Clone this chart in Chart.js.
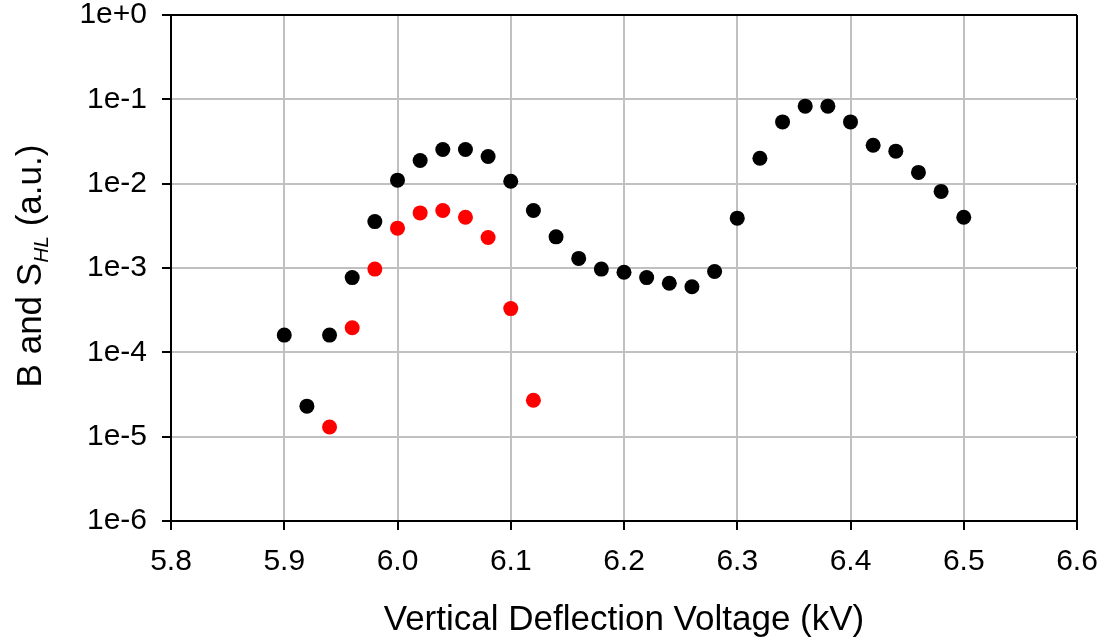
<!DOCTYPE html>
<html>
<head>
<meta charset="utf-8">
<script src="https://cdn.jsdelivr.net/npm/chart.js@4.4.1/dist/chart.umd.min.js"></script>
<style>
  html, body { margin: 0; padding: 0; background: #ffffff; }
  #c { display: block; }
</style>
</head>
<body>
<canvas id="c" width="1102" height="640"></canvas>
<script>
// ---- data ----
const voltageB = [5.90, 5.92, 5.94, 5.96, 5.98, 6.00, 6.02, 6.04, 6.06, 6.08, 6.10, 6.12, 6.14, 6.16, 6.18, 6.20, 6.22, 6.24, 6.26, 6.28, 6.30, 6.32, 6.34, 6.36, 6.38, 6.40, 6.42, 6.44, 6.46, 6.48, 6.50];
const valuesB = [1.6e-4, 2.3e-5, 1.6e-4, 7.7e-4, 3.55e-3, 1.1e-2, 1.88e-2, 2.54e-2, 2.54e-2, 2.1e-2, 1.07e-2, 4.8e-3, 2.34e-3, 1.3e-3, 9.7e-4, 8.9e-4, 7.7e-4, 6.6e-4, 6.0e-4, 9.1e-4, 3.9e-3, 2.0e-2, 5.4e-2, 8.3e-2, 8.3e-2, 5.4e-2, 2.86e-2, 2.43e-2, 1.36e-2, 8.1e-3, 4.0e-3];
const voltageS = [5.94, 5.96, 5.98, 6.00, 6.02, 6.04, 6.06, 6.08, 6.10, 6.12];
const valuesS = [1.3e-5, 1.96e-4, 9.7e-4, 2.97e-3, 4.5e-3, 4.8e-3, 4.0e-3, 2.3e-3, 3.3e-4, 2.7e-5];
const xTickValues = [5.8, 5.9, 6.0, 6.1, 6.2, 6.3, 6.4, 6.5, 6.6];
const xTickLabels = ['5.8', '5.9', '6.0', '6.1', '6.2', '6.3', '6.4', '6.5', '6.6'];
const yTickValues = [1e-6, 1e-5, 1e-4, 1e-3, 1e-2, 1e-1, 1];
const yTickLabels = ['1e-6', '1e-5', '1e-4', '1e-3', '1e-2', '1e-1', '1e+0'];
const xTitle = 'Vertical Deflection Voltage (kV)';
const yTitleParts = ['B and S', 'HL', ' (a.u.)'];

const FONT = '"Liberation Sans", Arial, Helvetica, sans-serif';

const yTitlePlugin = {
  id: 'yTitle',
  afterDraw(chart) {
    const ctx = chart.ctx;
    const area = chart.chartArea;
    const mainFont = '35px ' + FONT;
    const subFont = 'italic 21px ' + FONT;
    ctx.save();
    ctx.font = mainFont;
    const w0 = ctx.measureText(yTitleParts[0]).width;
    const w2 = ctx.measureText(yTitleParts[2]).width;
    ctx.font = subFont;
    const w1 = ctx.measureText(yTitleParts[1]).width;
    const total = w0 + w1 + w2;
    const cy = (area.top + area.bottom) / 2 - 2;
    ctx.translate(41, cy);
    ctx.rotate(-Math.PI / 2);
    ctx.fillStyle = '#000000';
    ctx.textBaseline = 'alphabetic';
    ctx.textAlign = 'left';
    let x = -total / 2;
    ctx.font = mainFont;
    ctx.fillText(yTitleParts[0], x, 0);
    x += w0;
    ctx.font = subFont;
    ctx.fillText(yTitleParts[1], x, 7);
    x += w1;
    ctx.font = mainFont;
    ctx.fillText(yTitleParts[2], x, 0);
    ctx.restore();
  }
};

new Chart(document.getElementById('c'), {
  type: 'scatter',
  data: {
    datasets: [
      {
        label: 'B',
        data: voltageB.map((v, i) => ({ x: v, y: valuesB[i] })),
        backgroundColor: '#000000',
        borderWidth: 0,
        pointRadius: 7.5,
        pointHoverRadius: 7.5,
        showLine: false
      },
      {
        label: 'S_HL',
        data: voltageS.map((v, i) => ({ x: v, y: valuesS[i] })),
        backgroundColor: '#ff0000',
        borderWidth: 0,
        pointRadius: 7.5,
        pointHoverRadius: 7.5,
        showLine: false
      }
    ]
  },
  options: {
    responsive: false,
    animation: false,
    events: [],
    layout: { padding: { top: 15, right: 25, left: 0, bottom: 0 } },
    plugins: {
      legend: { display: false },
      tooltip: { enabled: false }
    },
    scales: {
      x: {
        type: 'linear',
        position: 'bottom',
        min: 5.8,
        max: 6.6,
        afterBuildTicks(scale) { scale.ticks = xTickValues.map(v => ({ value: v })); },
        afterFit(scale) { scale.height = 119; scale.paddingLeft = 0; scale.paddingRight = 0; },
        ticks: {
          callback: (v, i) => xTickLabels[i],
          font: { family: FONT, size: 30 },
          color: '#000000',
          padding: 14,
          maxRotation: 0,
          autoSkip: false
        },
        grid: {
          color: (c) => (c.tick && Math.abs(c.tick.value - 6.6) < 1e-9) ? '#000000' : '#c0c0c0',
          lineWidth: 2,
          tickColor: '#000000',
          tickLength: 9,
          tickWidth: 2
        },
        border: { color: '#000000', width: 2 },
        title: {
          display: true,
          text: xTitle,
          font: { family: FONT, size: 35, lineHeight: 1.1 },
          color: '#000000',
          padding: { top: 0, bottom: 0 }
        }
      },
      y: {
        type: 'logarithmic',
        position: 'left',
        min: 1e-6,
        max: 1,
        afterBuildTicks(scale) { scale.ticks = yTickValues.map(v => ({ value: v })); },
        afterFit(scale) { scale.width = 171; scale.paddingTop = 0; scale.paddingBottom = 0; },
        ticks: {
          callback: (v, i) => yTickLabels[i],
          font: { family: FONT, size: 30 },
          color: '#000000',
          padding: 15,
          autoSkip: false
        },
        grid: {
          color: (c) => (c.tick && Math.abs(c.tick.value - 1) < 1e-12) ? '#000000' : '#c0c0c0',
          lineWidth: 2,
          tickColor: '#000000',
          tickLength: 9,
          tickWidth: 2
        },
        border: { color: '#000000', width: 2 },
        title: { display: false, text: 'B and S_HL (a.u.)' }
      }
    }
  },
  plugins: [yTitlePlugin]
});
</script>
</body>
</html>
